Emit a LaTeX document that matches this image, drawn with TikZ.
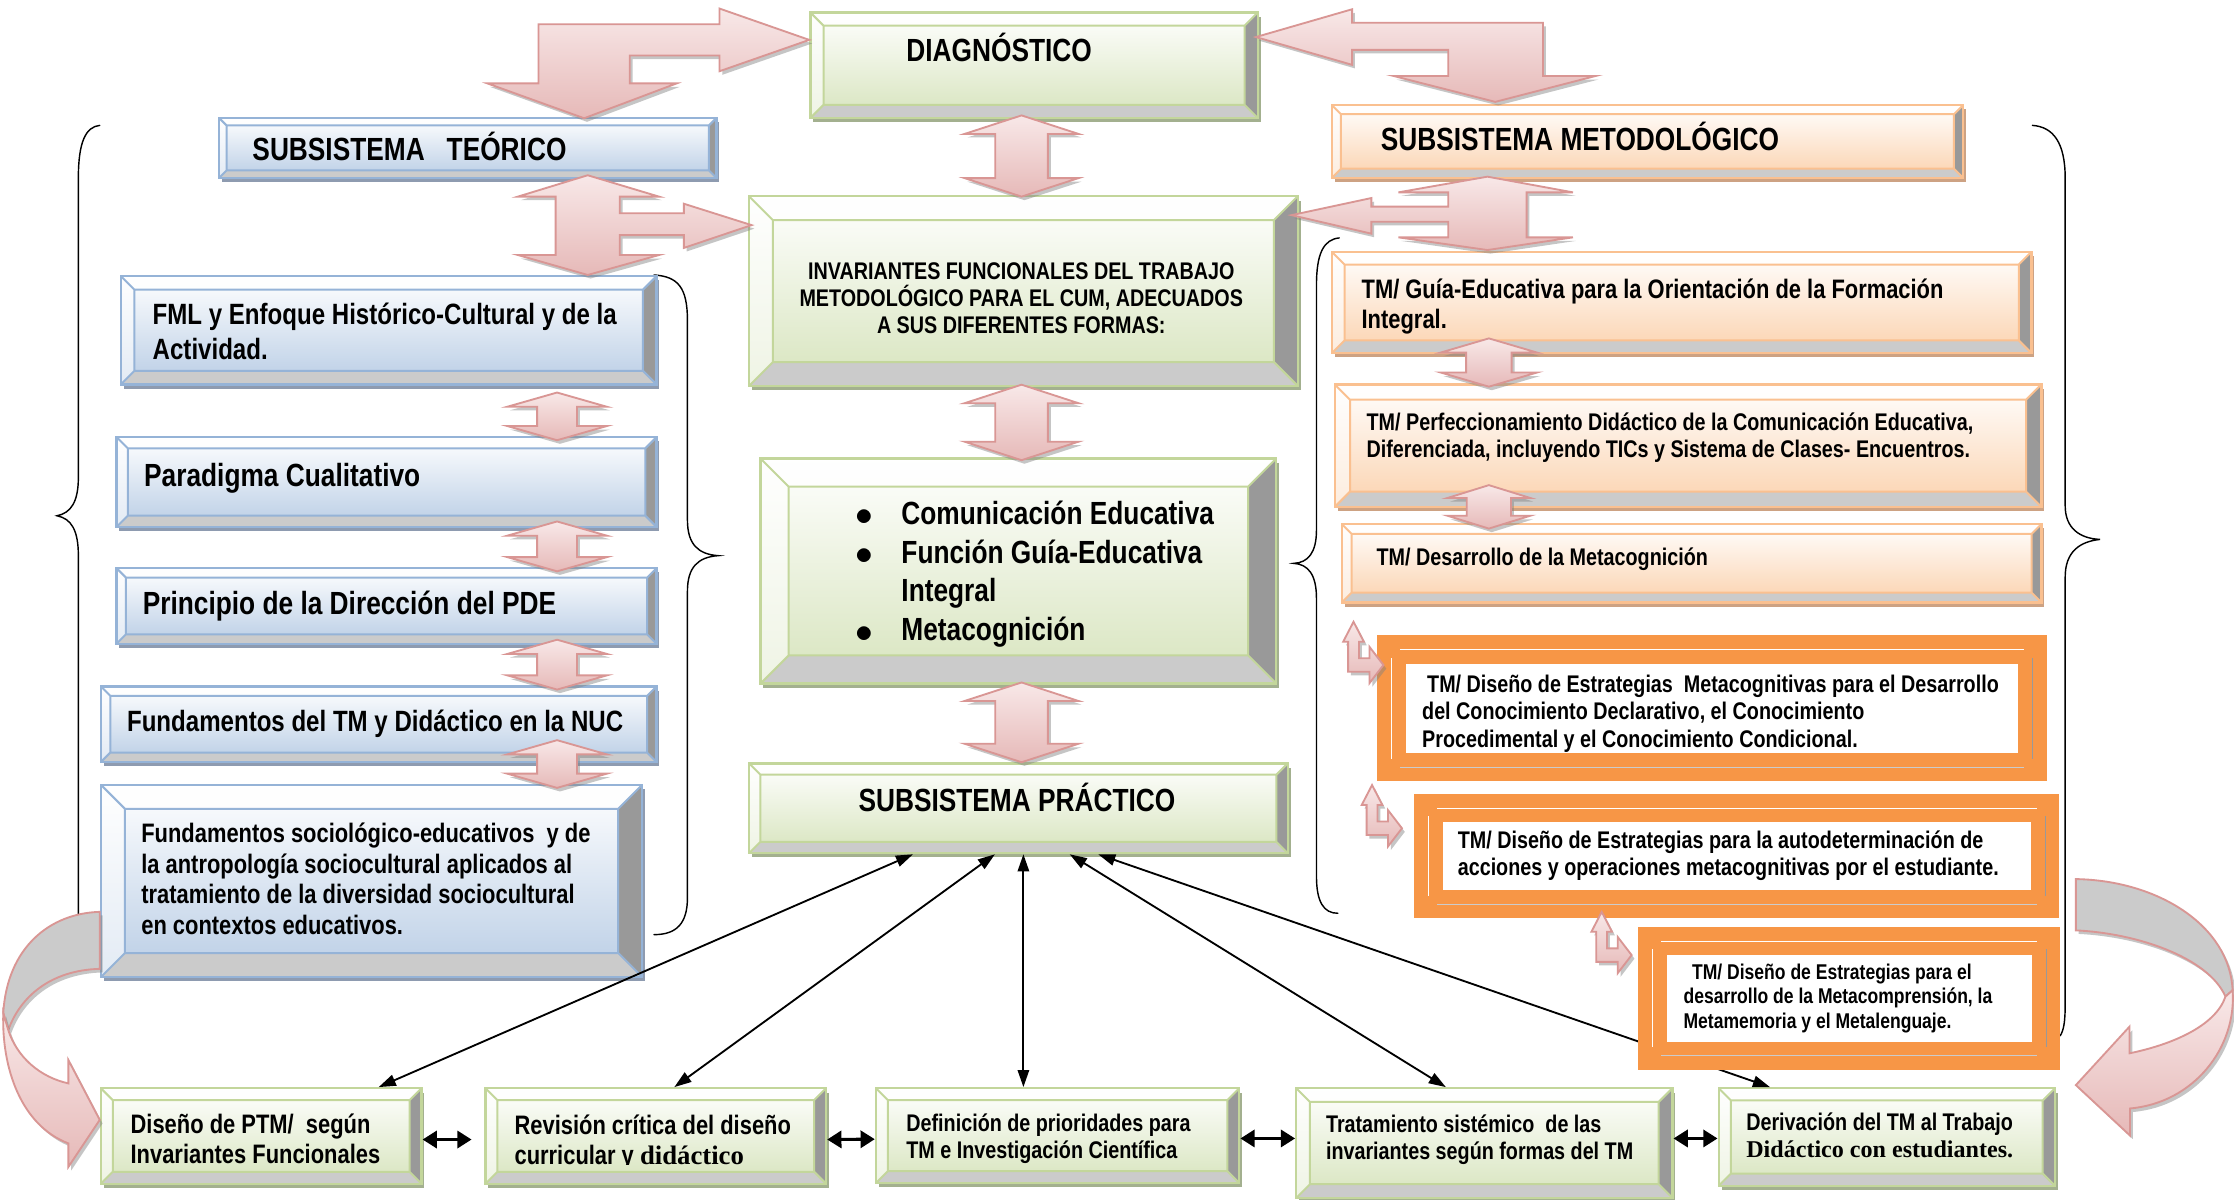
\documentclass[tikz,border=0pt]{standalone}
\usepackage{fontspec}
\setmainfont{Liberation Sans}[FakeStretch=0.82]
\newfontfamily\serifbf{Liberation Serif}
\usepackage{tikz}
\usetikzlibrary{calc, shadows, arrows.meta}

\definecolor{blueline}{HTML}{95B3D7}
\definecolor{bluefill}{HTML}{B9CDE5}
\definecolor{blueshadow}{HTML}{8E9BB0}
\definecolor{greenline}{HTML}{C3D69B}
\definecolor{greenfill}{HTML}{D7E4BD}
\definecolor{greenshadow}{HTML}{A3B08F}
\definecolor{orangeline}{HTML}{FAC090}
\definecolor{orangefill}{HTML}{FBD2AE}
\definecolor{orangeshadow}{HTML}{CDA283}
\definecolor{strongorange}{HTML}{F79646}
\definecolor{pinkline}{HTML}{D99694}
\definecolor{pinklight}{HTML}{F8E8E8}
\definecolor{pinkdark}{HTML}{E6B9B8}
\definecolor{facegrey}{HTML}{CBCBCB}
\definecolor{sidegrey}{HTML}{999999}

\newcommand{\bul}{\makebox[32.5pt][l]{\raisebox{-1pt}{\fontsize{30}{30}\selectfont$\bullet$}}}

\makeatletter
\tikzset{
  f_twelve/.style = {font=\bfseries\fontsize{22.5}{27.3}\selectfont},
  f_eleven/.style = {font=\bfseries\fontsize{20.6}{24.5}\selectfont},
  f_ten/.style = {font=\bfseries\fontsize{18.75}{21.4}\selectfont},
  f_nine/.style = {font=\bfseries\fontsize{16.9}{19.2}\selectfont},
  f_eight/.style = {font=\bfseries\fontsize{15}{17.2}\selectfont}
}
\tikzset{
  bevel/.style = {path picture={
      \path (path picture bounding box.south west); \pgfgetlastxy{\bxa}{\bya}
      \path (path picture bounding box.north east); \pgfgetlastxy{\bxb}{\byb}
      \pgfmathsetlengthmacro{\bev}{0.125*min(\bxb-\bxa,\byb-\bya)}
      \coordinate (b_nw) at (path picture bounding box.north west);
      \coordinate (b_ne) at (path picture bounding box.north east);
      \coordinate (b_sw) at (path picture bounding box.south west);
      \coordinate (b_se) at (path picture bounding box.south east);
      \coordinate (i_nw) at ($(b_nw)+(\bev,-\bev)$);
      \coordinate (i_ne) at ($(b_ne)+(-\bev,-\bev)$);
      \coordinate (i_sw) at ($(b_sw)+(\bev,\bev)$);
      \coordinate (i_se) at ($(b_se)+(-\bev,\bev)$);
      \fill[white, opacity=.8] (b_nw) -- (b_ne) -- (i_ne) -- (i_nw) -- cycle;
      \fill[white, opacity=.6] (b_nw) -- (b_sw) -- (i_sw) -- (i_nw) -- cycle;
      \fill[sidegrey] (b_ne) -- (b_se) -- (i_se) -- (i_ne) -- cycle;
      \fill[facegrey] (b_sw) -- (b_se) -- (i_se) -- (i_sw) -- cycle;
      \draw[#1, line width=1.4pt] (i_nw) rectangle (i_se)
        (b_nw) -- (i_nw) (b_ne) -- (i_ne) (b_sw) -- (i_sw) (b_se) -- (i_se);
  }},
  box/.style = {anchor=north west, inner sep=0pt, line width=1.6pt},
  blue_box/.style = {box, draw=blueline, top color=white, bottom color=bluefill, bevel=blueline,
    drop shadow={shadow xshift=2pt, shadow yshift=-3pt, fill=blueshadow, opacity=1}},
  green_box/.style = {box, draw=greenline, top color=white, bottom color=greenfill, bevel=greenline,
    drop shadow={shadow xshift=2pt, shadow yshift=-3pt, fill=greenshadow, opacity=1}},
  orange_box/.style = {box, draw=orangeline, top color=white, bottom color=orangefill, bevel=orangeline,
    drop shadow={shadow xshift=2pt, shadow yshift=-3pt, fill=orangeshadow, opacity=1}},
  strong_box/.style = {anchor=north west, inner sep=0pt, outer sep=0pt, draw=strongorange,
    line width=20pt, fill=white,
    append after command={
      [line width=1.5pt, shorten <=6pt, shorten >=6pt]
      (\tikzlastnode.south west) edge[white] (\tikzlastnode.north west)
      (\tikzlastnode.north west) edge[white] (\tikzlastnode.north east)
      (\tikzlastnode.south west) edge[facegrey] (\tikzlastnode.south east)
      (\tikzlastnode.south east) edge[sidegrey] (\tikzlastnode.north east)}},
  txt/.style = {inner sep=0pt, align=left, anchor=west}
}
\tikzset{
  link/.style = {arrows={Triangle[length=12pt, width=8pt]-Triangle[length=12pt, width=8pt]}, line width=1.3pt},
  pair_link/.style = {arrows={Triangle[length=10pt, width=12pt]-Triangle[length=10pt, width=12pt]}, line width=2.2pt},
  block_arrow/.style = {draw=pinkline, line width=1.3pt, line join=miter, top color=pinklight, bottom color=pinkdark,
    drop shadow={shadow xshift=2pt, shadow yshift=-2.5pt, fill=black!50, opacity=.45}},
  curve_back/.style = {draw=pinkline, line width=1.3pt, fill=facegrey,
    drop shadow={shadow xshift=2pt, shadow yshift=-2.5pt, fill=black!50, opacity=.45}},
  brace_line/.style = {line width=1pt, line cap=round}
}
\makeatother

% x, top tip, bottom tip, head half width, shaft half width, head length
\newcommand{\updown}[6]{
  \draw[block_arrow] (#1,#2) -- ({#1+#4},{#2+#6}) -- ({#1+#5},{#2+#6}) -- ({#1+#5},{#3-#6})
    -- ({#1+#4},{#3-#6}) -- (#1,#3) -- ({#1-#4},{#3-#6}) -- ({#1-#5},{#3-#6})
    -- ({#1-#5},{#2+#6}) -- ({#1-#4},{#2+#6}) -- cycle;}
% tip of the upward head
\newcommand{\bentarrow}[2]{
  \draw[block_arrow, shift={(#1,#2)}] (0,0) -- (7.25,14) -- (3.8,14) -- (3.8,25.6) -- (11.2,25.6)
    -- (11.2,17.6) -- (21,30.35) -- (11.2,43.1) -- (11.2,35.1) -- (-3.8,35.1) -- (-3.8,14)
    -- (-7.25,14) -- cycle;}

\begin{document}
\begin{tikzpicture}[x=1pt, y=-1pt]
  \useasboundingbox (0,0) rectangle (1568,841.6);
  \fill[white] (0,0) rectangle (1568,841.6);

  % Braces
  \draw[brace_line] (70,88) .. controls (60,89) and (55,100) .. (55,125) -- (55,335)
    .. controls (55,352) and (50,360) .. (40,362) .. controls (50,364) and (55,372) .. (55,390) -- (55,660);
  \draw[brace_line] (459,193) .. controls (476,194) and (482.5,202) .. (482.5,225) -- (482.5,365)
    .. controls (482.5,382) and (490,389) .. (504,390) .. controls (490,391) and (482.5,398) .. (482.5,415)
    -- (482.5,630) .. controls (482.5,648) and (475,656) .. (459,656);
  \draw[brace_line] (940,167) .. controls (929,168) and (924,178) .. (924,200) -- (924,372)
    .. controls (924,388) and (918,395) .. (908,395.4) .. controls (918,396) and (924,403) .. (924,420)
    -- (924,615) .. controls (924,633) and (929,641) .. (939,641);
  \draw[brace_line] (1426.5,88) .. controls (1441,89) and (1449.5,100) .. (1449.5,125) -- (1449.5,355)
    .. controls (1449.5,371) and (1460,378) .. (1474,378.6) .. controls (1460,380) and (1449.5,387) .. (1449.5,405)
    -- (1449.5,705) .. controls (1449.5,717) and (1448.5,723) .. (1446,727);

  % Centre column
  \node[green_box, minimum width=314pt, minimum height=74pt] at (568,8) (diag) {};
  \node[txt, f_twelve] at ([xshift=68pt, yshift=12.6pt]diag.west) (diag_txt) {DIAGNÓSTICO};
  \node[green_box, minimum width=385pt, minimum height=133pt] at (525,137) (inv) {};
  \node[txt, f_nine, align=center, anchor=center] at ([xshift=-1.5pt, yshift=-5pt]inv.center) (inv_txt) {
    INVARIANTES FUNCIONALES DEL TRABAJO\\
    METODOLÓGICO PARA EL CUM, ADECUADOS\\
    A SUS DIFERENTES FORMAS:};
  \node[green_box, minimum width=362pt, minimum height=158pt] at (533,321) (bul) {};
  \node[txt, f_twelve] at ([xshift=67pt, yshift=-2.2pt]bul.west) (bul_txt) {
    \bul Comunicación Educativa\\
    \bul Función Guía-Educativa\\
    \hspace*{32.5pt}Integral\\
    \bul Metacognición};
  \node[green_box, minimum width=378pt, minimum height=63pt] at (525,535) (prac) {};
  \node[txt, f_twelve, anchor=center] at ([xshift=-1pt, yshift=7.5pt]prac.center) (prac_txt) {SUBSISTEMA PRÁCTICO};

  % Theoretical subsystem
  \node[blue_box, minimum width=349pt, minimum height=42pt] at (153,82) (teo) {};
  \node[txt, f_twelve] at ([xshift=24pt, yshift=0.7pt]teo.west) (teo_txt) {SUBSISTEMA\ \ \ TEÓRICO};
  \node[blue_box, minimum width=376pt, minimum height=76pt] at (84,193) (fml) {};
  \node[txt, f_eleven] at ([xshift=23pt, yshift=-0.8pt]fml.west) (fml_txt) {
    FML y Enfoque Histórico-Cultural y de la\\
    Actividad.};
  \node[blue_box, minimum width=379pt, minimum height=63pt] at (81,306) (par) {};
  \node[txt, f_twelve] at ([xshift=20pt, yshift=2.9pt]par.west) (par_txt) {Paradigma Cualitativo};
  \node[blue_box, minimum width=379pt, minimum height=53pt] at (81,398) (pri) {};
  \node[txt, f_twelve] at ([xshift=19pt]pri.west) (pri_txt) {Principio de la Dirección del PDE};
  \node[blue_box, minimum width=390pt, minimum height=53pt] at (70,481) (fun) {};
  \node[txt, f_eleven] at ([xshift=19pt, yshift=0.5pt]fun.west) (fun_txt) {Fundamentos del TM y Didáctico en la NUC};
  \node[blue_box, minimum width=380pt, minimum height=135pt] at (70,550) (soc) {};
  \node[txt, f_ten] at ([xshift=29pt, yshift=1.6pt]soc.west) (soc_txt) {
    Fundamentos sociológico-educativos\ \ y de\\
    la antropología sociocultural aplicados al\\
    tratamiento de la diversidad sociocultural\\
    en contextos educativos.};

  % Methodological subsystem
  \node[orange_box, minimum width=443pt, minimum height=51pt] at (934,73) (met) {};
  \node[txt, f_twelve] at ([xshift=35pt, yshift=3.2pt]met.west) (met_txt) {SUBSISTEMA METODOLÓGICO};
  \node[orange_box, minimum width=491pt, minimum height=71pt] at (934,176) (gui) {};
  \node[txt, f_ten] at ([xshift=21.5pt, yshift=-2.8pt]gui.west) (gui_txt) {
    TM/ Guía-Educativa para la Orientación de la Formación\\
    Integral.};
  \node[orange_box, minimum width=496pt, minimum height=86pt] at (936,269) (per) {};
  \node[txt, f_nine] at ([xshift=23pt, yshift=5.4pt]per.west) (per_txt) {
    TM/ Perfeccionamiento Didáctico de la Comunicación Educativa,\\
    Diferenciada, incluyendo TICs y Sistema de Clases- Encuentros.};
  \node[orange_box, minimum width=491pt, minimum height=55pt] at (941,367) (des) {};
  \node[txt, f_nine] at ([xshift=25pt, yshift=2.5pt]des.west) (des_txt) {TM/ Desarrollo de la Metacognición};

  % Practical row
  \node[green_box, minimum width=225pt, minimum height=67pt] at (70,763) (d1) {};
  \node[txt, f_ten] at ([xshift=21.5pt, yshift=-2pt]d1.west) (d1_txt) {
    Diseño de PTM/\ \ según\\
    Invariantes Funcionales};
  \node[green_box, minimum width=239pt, minimum height=67pt] at (340,763) (d2) {};
  \begin{scope}
    \clip (d2.north west) rectangle ([yshift=14.5pt]d2.south east);
    \node[txt, f_ten] at ([xshift=21pt, yshift=-4.5pt]d2.west) (d2_txt) {
      Revisión crítica del diseño\\
      curricular y {\serifbf didáctico}};
  \end{scope}
  \node[green_box, minimum width=255pt, minimum height=66.5pt] at (614,763) (d3) {};
  \node[txt, f_nine] at ([xshift=22pt, yshift=-2pt]d3.west) (d3_txt) {
    Definición de prioridades para\\
    TM e Investigación Científica};
  \node[green_box, minimum width=264pt, minimum height=77pt] at (909,763) (d4) {};
  \node[txt, f_nine] at ([xshift=21.5pt, yshift=2.5pt]d4.west) (d4_txt) {
    Tratamiento sistémico\ \ de las\\
    invariantes según formas del TM};
  \node[green_box, minimum width=236pt, minimum height=68.5pt] at (1205.5,763) (d5) {};
  \node[txt, f_nine] at ([xshift=20pt, yshift=1pt]d5.west) (d5_txt) {
    Derivación del TM al Trabajo\\
    {\serifbf Didáctico con estudiantes.}};

  % Links
  \draw[link] ([xshift=-74pt]prac.south) -- ([xshift=82.5pt]d1.north);
  \draw[link] ([xshift=-16.5pt]prac.south) -- ([xshift=13pt]d2.north);
  \draw[link] ([xshift=3.5pt]prac.south) -- ([xshift=-24pt]d3.north);
  \draw[link] ([xshift=36pt]prac.south) -- ([xshift=-27pt]d4.north);
  \draw[link] ([xshift=56pt]prac.south) -- ([xshift=-82pt]d5.north);
  \draw[pair_link, shorten >=9pt] ([yshift=-2.5pt]d1.east) -- ([yshift=-2.5pt]d2.west);
  \draw[pair_link] ([yshift=-2.5pt]d2.east) -- ([yshift=-2.5pt]d3.west);
  \draw[pair_link] ([yshift=-2pt]d3.east) -- ([yshift=-2pt]d3.east -| d4.west);
  \draw[pair_link] ([yshift=-1pt]d5.west -| d4.east) -- ([yshift=-1pt]d5.west);

  % Strategy boxes
  \node[strong_box, minimum width=450pt, minimum height=82.5pt] at (976.5,456) (o1) {};
  \node[txt, f_nine] at ([xshift=21.5pt, yshift=-3.5pt]o1.west) (o1_txt) {
    \hspace*{3.5pt}TM/ Diseño de Estrategias\ \ Metacognitivas para el Desarrollo\\
    del Conocimiento Declarativo, el Conocimiento\\
    Procedimental y el Conocimiento Condicional.};
  \node[strong_box, minimum width=433pt, minimum height=67.6pt] at (1002.5,567) (o2) {};
  \node[txt, f_nine] at ([xshift=20.5pt]o2.west) (o2_txt) {
    TM/ Diseño de Estrategias para la autodeterminación de\\
    acciones y operaciones metacognitivas por el estudiante.};
  \node[strong_box, minimum width=276pt, minimum height=80.6pt] at (1160,660.4) (o3) {};
  \node[txt, f_eight] at ([xshift=21.5pt]o3.west) (o3_txt) {
    \hspace*{6pt}TM/ Diseño de Estrategias para el\\
    desarrollo de la Metacomprensión, la\\
    Metamemoria y el Metalenguaje.};

  % Block arrows
  \draw[block_arrow] (568,28) -- (505,6) -- (505,17) -- (378,17) -- (378,58.5) -- (342,58.5) -- (410,83)
    -- (475,58.5) -- (442,58.5) -- (442,39) -- (505,39) -- (505,50) -- cycle;
  \draw[block_arrow] (881.5,26) -- (949,6.5) -- (949,16) -- (1083,16) -- (1083,53.3) -- (1120,53.3)
    -- (1049.5,71.5) -- (978,53.3) -- (1016.5,53.3) -- (1016.5,35) -- (949,35) -- (949,45.5) -- cycle;
  \draw[block_arrow] (412.5,123) -- (462.5,138) -- (435,138) -- (435,149.7) -- (480,149.7) -- (480,143)
    -- (527.5,158) -- (480,174) -- (480,165) -- (435,165) -- (435,179) -- (462.5,179) -- (412.5,193)
    -- (363.5,179) -- (390,179) -- (390,138) -- (363.5,138) -- cycle;
  \draw[block_arrow] (1044,124) -- (1104,135) -- (1071.5,135) -- (1071.5,166.6) -- (1104,166.6)
    -- (1044,175.5) -- (981.5,166.6) -- (1016.5,166.6) -- (1016.5,155.6) -- (962.5,155.6) -- (962.5,164)
    -- (906.5,151) -- (962.5,139) -- (962.5,145) -- (1016.5,145) -- (1016.5,135) -- (981.5,135) -- cycle;
  \updown{717}{81}{138}{40}{18.5}{13}
  \updown{717}{270}{323}{40}{18.5}{13}
  \updown{717}{479}{535}{40}{18.5}{13}
  \updown{391}{275.5}{309}{35}{14}{10}
  \updown{391}{366}{401}{35}{14}{10}
  \updown{391}{449}{484}{35}{14}{10}
  \updown{391}{519.5}{553}{35}{14}{10}
  \updown{1045}{237.5}{271.4}{34}{16}{10}
  \updown{1045}{340.5}{371}{29}{15.5}{9}
  \bentarrow{950}{436.4}
  \bentarrow{963}{551}
  \bentarrow{1124.2}{640}

  % Curved arrows
  \draw[curve_back] (70,640) .. controls (35,641) and (5,665) .. (2.3,711) -- (5.8,723)
    .. controls (14,700) and (35,681) .. (70,680) -- cycle;
  \draw[block_arrow] (2.3,711) .. controls (1,750) and (15,790) .. (48,802.5) -- (48,819) -- (70,786)
    -- (48,744) -- (48,760.4) .. controls (28,756) and (12,742) .. (5.8,723) -- cycle;
  \draw[curve_back] (1457,617) .. controls (1515,618) and (1565,650) .. (1567,695) -- (1562,699.5)
    .. controls (1550,672) and (1500,655) .. (1457,653) -- cycle;
  \draw[block_arrow] (1567,695) .. controls (1570,735) and (1540,774) .. (1495,778) -- (1495,797)
    -- (1457,761.6) -- (1494.6,720.6) -- (1494.6,739.3) .. controls (1525,733) and (1555,720) .. (1562,699.5) -- cycle;
\end{tikzpicture}
\end{document}
